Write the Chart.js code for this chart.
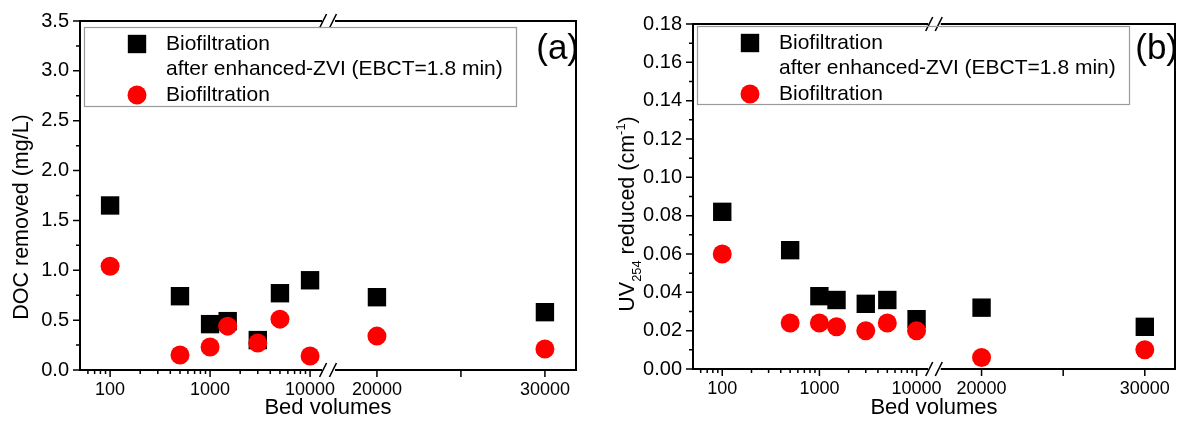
<!DOCTYPE html>
<html>
<head>
<meta charset="utf-8">
<title>Biofiltration DOC and UV254</title>
<script src="https://cdn.jsdelivr.net/npm/chart.js@4.4.1/dist/chart.umd.min.js"></script>
<style>
  html, body { margin: 0; padding: 0; background: #fff; }
  #wrap { position: relative; width: 1188px; height: 421px; overflow: hidden; }
  .panel { position: absolute; top: 0; width: 594px; height: 421px; }
  #panelA { left: 0; }
  #panelB { left: 594px; }
</style>
</head>
<body>
<div id="wrap">
  <div class="panel" id="panelA"><canvas id="chartA"></canvas></div>
  <div class="panel" id="panelB"><canvas id="chartB"></canvas></div>
</div>
<script>
"use strict";
// bed volumes sampled for both filters
const bedVolumes = [100, 500, 1000, 1500, 3000, 5000, 10000, 20000, 30000];
// (a) DOC removed, mg/L
const docZvi = [1.65, 0.74, 0.46, 0.49, 0.30, 0.77, 0.90, 0.73, 0.58];
const docBio = [1.04, 0.15, 0.23, 0.44, 0.27, 0.51, 0.14, 0.34, 0.21];
// (b) UV254 reduced, cm-1
const uvZvi = [0.082, 0.062, 0.038, 0.036, 0.034, 0.036, 0.026, 0.032, 0.022];
const uvBio = [0.060, 0.024, 0.024, 0.022, 0.020, 0.024, 0.020, 0.006, 0.010];

const zviName = ["Biofiltration", "after enhanced-ZVI (EBCT=1.8 min)"];
const bioName = ["Biofiltration"];

// x axis: log part up to the break, linear part after it
const xMajorTicks = [100, 1000, 10000, 20000, 25000, 30000];
const xLabelled = [100, 1000, 10000, 20000, 30000];
const xMinorTicks = [60, 70, 80, 90, 200, 300, 400, 500, 600, 700, 800, 900,
  2000, 3000, 4000, 5000, 6000, 7000, 8000, 9000];
const docTicks = [0, 0.5, 1.0, 1.5, 2.0, 2.5, 3.0, 3.5];
const uvTicks = [0, 0.02, 0.04, 0.06, 0.08, 0.10, 0.12, 0.14, 0.16, 0.18];

Chart.defaults.font.family = '"Liberation Sans", Arial, sans-serif';
Chart.defaults.color = "#000";

// scale with a log segment, a gap, then a linear segment
class BrokenAxis extends Chart.Scale {
  determineDataLimits() {
    this.min = this.options.min;
    this.max = this.options.max;
  }
  buildTicks() {
    return xMajorTicks.map(value => ({ value }));
  }
  getLabelForValue(value) {
    return String(value);
  }
  getDecimalForValue(value) {
    const b = this.options.brk;
    if (value <= b.logMax) {
      return b.at * Math.log(value / this.min) / Math.log(b.logMax / this.min);
    }
    return b.resume + (1 - b.resume) * (value - b.linMin) / (this.max - b.linMin);
  }
  getPixelForValue(value) {
    return this.getPixelForDecimal(this.getDecimalForValue(value));
  }
  getValueForPixel(pixel) {
    const b = this.options.brk;
    const d = this.getDecimalForPixel(pixel);
    if (d <= b.at) return this.min * Math.pow(b.logMax / this.min, d / b.at);
    return b.linMin + (d - b.resume) / (1 - b.resume) * (this.max - b.linMin);
  }
}
BrokenAxis.id = "broken";
BrokenAxis.defaults = {};
Chart.register(BrokenAxis);

function drawRichVertical(ctx, parts, cx, cy, size) {
  ctx.save();
  ctx.translate(cx, cy);
  ctx.rotate(-Math.PI / 2);
  ctx.textAlign = "left";
  ctx.textBaseline = "alphabetic";
  let total = 0;
  parts.forEach(p => {
    p.size = p.sub || p.sup ? size * 0.6 : size;
    ctx.font = p.size + 'px "Liberation Sans", Arial, sans-serif';
    p.w = ctx.measureText(p.text).width;
    total += p.w;
  });
  let xx = -total / 2;
  const base = size * 0.36;
  parts.forEach(p => {
    ctx.font = p.size + 'px "Liberation Sans", Arial, sans-serif';
    let shift = 0;
    if (p.sub) shift = size * 0.32;
    if (p.sup) shift = -size * 0.42;
    ctx.fillText(p.text, xx, base + shift);
    xx += p.w;
  });
  ctx.restore();
}

// frame with broken top/bottom, tick marks, legend box, panel tag, y title
const panelDecor = {
  id: "panelDecor",
  afterDraw(chart, args, opts) {
    const { ctx } = chart;
    const { left, right, top, bottom } = chart.chartArea;
    const x = chart.scales.x;
    const y = chart.scales.y;
    const brk = chart.options.scales.x.brk;
    const gapL = x.getPixelForDecimal(brk.at);
    const gapR = x.getPixelForDecimal(brk.resume);

    ctx.save();
    ctx.strokeStyle = "#000";
    ctx.lineWidth = 2;
    ctx.beginPath();
    ctx.moveTo(left, top - 1);
    ctx.lineTo(left, bottom + 1);
    ctx.moveTo(right, top - 1);
    ctx.lineTo(right, bottom + 1);
    [top, bottom].forEach(yy => {
      ctx.moveTo(left, yy);
      ctx.lineTo(gapL, yy);
      ctx.moveTo(gapR, yy);
      ctx.lineTo(right, yy);
    });
    ctx.stroke();

    // break marks
    ctx.lineWidth = 1.6;
    ctx.beginPath();
    [top, bottom].forEach(yy => {
      [gapL + 1, gapR - 2].forEach(gx => {
        ctx.moveTo(gx - 3.5, yy + 7);
        ctx.lineTo(gx + 3.5, yy - 7);
      });
    });
    ctx.stroke();

    // tick marks, pointing outwards
    ctx.lineWidth = 1.5;
    ctx.beginPath();
    const yt = opts.yTicks;
    yt.forEach((v, i) => {
      const py = y.getPixelForValue(v);
      ctx.moveTo(left - 7, py);
      ctx.lineTo(left, py);
      if (i < yt.length - 1) {
        const pm = y.getPixelForValue((v + yt[i + 1]) / 2);
        ctx.moveTo(left - 4, pm);
        ctx.lineTo(left, pm);
      }
    });
    xMajorTicks.forEach(v => {
      const px = x.getPixelForValue(v);
      ctx.moveTo(px, bottom);
      ctx.lineTo(px, bottom + 7);
    });
    xMinorTicks.forEach(v => {
      const px = x.getPixelForValue(v);
      ctx.moveTo(px, bottom);
      ctx.lineTo(px, bottom + 4);
    });
    ctx.stroke();

    // legend
    const lg = opts.legend;
    const lx = left + 4;
    ctx.lineWidth = 1.2;
    ctx.strokeStyle = "#9a9a9a";
    ctx.strokeRect(lx + 0.5, lg.top + 0.5, 432, lg.height);
    ctx.font = '21px "Liberation Sans", Arial, sans-serif';
    ctx.textAlign = "left";
    ctx.textBaseline = "middle";
    let row = 0;
    chart.data.datasets.forEach(ds => {
      const cy = lg.top + 17 + row * lg.step;
      ctx.fillStyle = ds.backgroundColor;
      Chart.helpers.drawPoint(ctx, {
        pointStyle: ds.pointStyle, radius: ds.pointRadius, rotation: 0, borderWidth: 0
      }, lx + 53, cy);
      ctx.fillStyle = "#000";
      ds.label.forEach((line, k) => {
        ctx.fillText(line, lx + 82, cy + k * lg.step);
      });
      row += ds.label.length;
    });

    // panel tag
    ctx.font = '35px "Liberation Sans", Arial, sans-serif';
    ctx.textAlign = "right";
    ctx.fillText(opts.tag, right + 3, 49);

    drawRichVertical(ctx, opts.yTitle, opts.yTitleX, opts.yTitleY, 21.5);
    ctx.restore();
  }
};

function makePanel(canvasId, zvi, bio, cfg) {
  return new Chart(document.getElementById(canvasId), {
    type: "scatter",
    data: {
      datasets: [
        {
          label: zviName,
          data: bedVolumes.map((v, i) => ({ x: v, y: zvi[i] })),
          pointStyle: "rect",
          pointRadius: 13,
          backgroundColor: "#000",
          borderWidth: 0,
          order: 1
        },
        {
          label: bioName,
          data: bedVolumes.map((v, i) => ({ x: v, y: bio[i] })),
          pointStyle: "circle",
          pointRadius: 9.5,
          backgroundColor: "#ff0000",
          borderWidth: 0,
          order: 0
        }
      ]
    },
    options: {
      responsive: true,
      maintainAspectRatio: false,
      animation: false,
      devicePixelRatio: 1,
      events: [],
      layout: { padding: { left: 0, right: cfg.padRight, top: cfg.top, bottom: 0 } },
      plugins: {
        legend: { display: false },
        tooltip: { enabled: false },
        panelDecor: {
          tag: cfg.tag,
          yTicks: cfg.yTicks,
          yTitle: cfg.yTitle,
          yTitleX: cfg.yTitleX,
          yTitleY: cfg.yTitleY,
          legend: cfg.legend
        }
      },
      scales: {
        x: {
          type: "broken",
          min: 50,
          max: 31850,
          brk: { logMax: 13180, linMin: 17500, at: 0.488, resume: 0.514 },
          grid: { display: false, drawTicks: true, tickLength: 7 },
          border: { display: false },
          ticks: {
            font: { size: 18 },
            padding: 2,
            maxRotation: 0,
            autoSkip: false,
            callback: v => (xLabelled.includes(v) ? String(v) : "")
          },
          title: { display: true, text: "Bed volumes", font: { size: 22 }, padding: 0 },
          afterFit: s => { s.height = cfg.xHeight; }
        },
        y: {
          min: 0,
          max: cfg.yTicks[cfg.yTicks.length - 1],
          afterBuildTicks: s => { s.ticks = cfg.yTicks.map(value => ({ value })); },
          grid: { display: false, drawTicks: true, tickLength: 7 },
          border: { display: false },
          ticks: {
            font: { size: 20 },
            padding: 4,
            callback: v => v.toFixed(cfg.decimals)
          },
          afterFit: s => { s.width = cfg.yWidth; }
        }
      }
    },
    plugins: [panelDecor]
  });
}

makePanel("chartA", docZvi, docBio, {
  tag: "(a)",
  yTicks: docTicks,
  decimals: 1,
  yTitle: [{ text: "DOC removed (mg/L)" }],
  yTitleX: 20,
  yTitleY: 217,
  yWidth: 80,
  xHeight: 51,
  top: 21,
  padRight: 18,
  legend: { top: 27, height: 79, step: 25.5 }
});

makePanel("chartB", uvZvi, uvBio, {
  tag: "(b)",
  yTicks: uvTicks,
  decimals: 2,
  yTitle: [
    { text: "UV" }, { text: "254", sub: true },
    { text: " reduced (cm" }, { text: "-1", sup: true }, { text: ")" }
  ],
  yTitleX: 32,
  yTitleY: 214,
  yWidth: 99,
  xHeight: 52,
  top: 24,
  padRight: 2,
  legend: { top: 26, height: 78, step: 25.5 }
});
</script>
</body>
</html>
